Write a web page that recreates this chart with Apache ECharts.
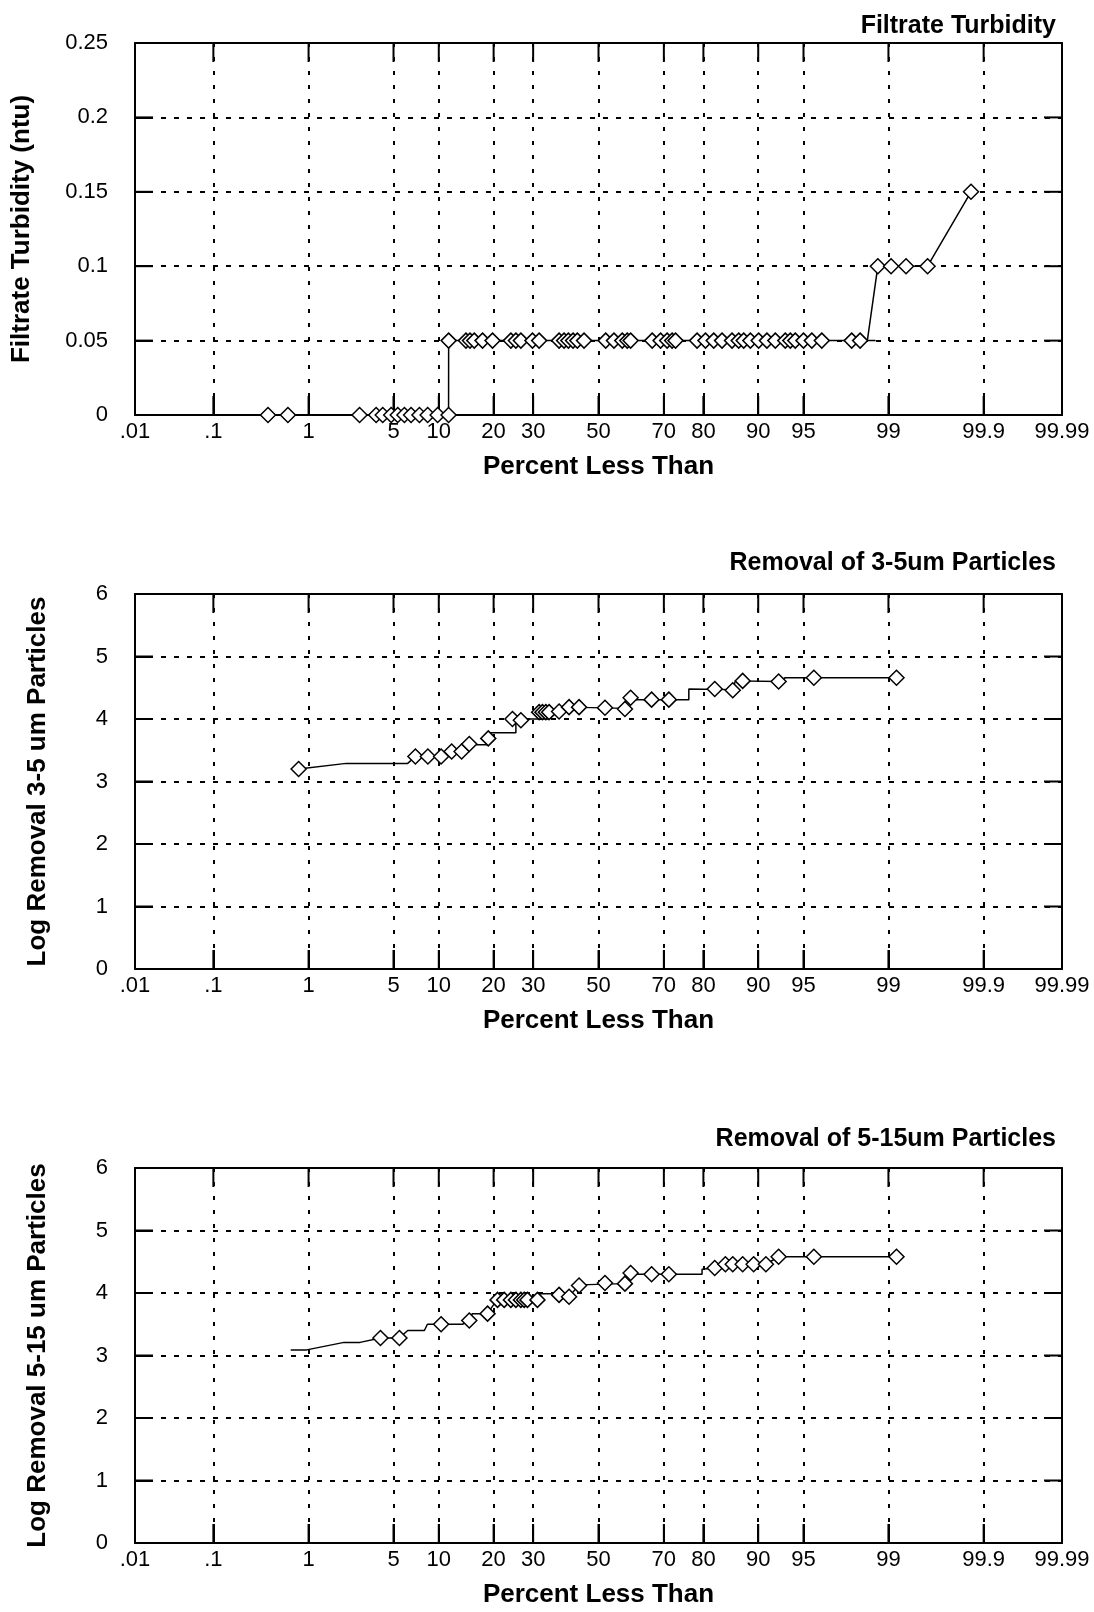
<!DOCTYPE html>
<html>
<head>
<meta charset="utf-8">
<title>Filtrate turbidity and particle removal - probability plots</title>
<script src="https://cdn.jsdelivr.net/npm/echarts@6.0.0/dist/echarts.min.js"></script>
<style>
  html, body { margin: 0; padding: 0; background: #fff; }
  #main { width: 1094px; height: 1612px; }
</style>
</head>
<body>
<div id="main"></div>
<script>
// x axis: normal probability scale, ticks in "percent less than"
var tickPct = [0.01, 0.1, 1, 5, 10, 20, 30, 50, 70, 80, 90, 95, 99, 99.9, 99.99];
var tickLabels = ['.01', '.1', '1', '5', '10', '20', '30', '50', '70', '80', '90', '95', '99', '99.9', '99.99'];
var turbTicks = [0, 0.05, 0.1, 0.15, 0.2, 0.25];
var removalTicks = [0, 1, 2, 3, 4, 5, 6];

// chart 1 - filtrate turbidity (ntu)
var turbMarkPct = [0.40, 0.635, 2.76, 3.72, 4.17, 4.81, 5.36, 5.97, 6.63, 7.54, 8.52, 9.84, 11.45,
  11.46, 14.38, 15.12, 15.94, 17.61, 19.76, 24.10, 25.37, 26.67, 29.81, 31.69, 37.59, 39.12, 40.45,
  41.91, 43.26, 45.38, 52.30, 54.94, 57.56, 59.12, 60.17, 66.67, 69.08, 70.91, 72.27, 73.17, 78.55,
  80.46, 82.24, 83.92, 85.80, 86.97, 87.80, 88.85, 90.06, 91.17, 92.20, 93.30, 93.81, 94.28, 95.00,
  95.65, 96.34, 97.89, 98.21,
  98.75, 99.055, 99.32, 99.586, 99.86];
var turbMarkVal = [0, 0, 0, 0, 0, 0, 0, 0, 0, 0, 0, 0, 0,
  0.05, 0.05, 0.05, 0.05, 0.05, 0.05, 0.05, 0.05, 0.05, 0.05, 0.05, 0.05, 0.05, 0.05,
  0.05, 0.05, 0.05, 0.05, 0.05, 0.05, 0.05, 0.05, 0.05, 0.05, 0.05, 0.05, 0.05, 0.05,
  0.05, 0.05, 0.05, 0.05, 0.05, 0.05, 0.05, 0.05, 0.05, 0.05, 0.05, 0.05, 0.05, 0.05,
  0.05, 0.05, 0.05, 0.05,
  0.1, 0.1, 0.1, 0.1, 0.15];
var turbLinePct = [0.104, 0.40, 11.45, 11.46, 98.21, 98.69, 98.45, 98.75, 99.586, 99.86];
var turbLineVal = [0, 0, 0, 0.05, 0.05, 0.05, 0.05, 0.1, 0.1, 0.15];

// chart 2 - log removal of 3-5 um particles
var p35MarkPct = [0.806, 7.09, 8.55, 10.33, 11.93, 13.60, 14.99, 18.82, 24.50, 26.67, 31.69, 32.64,
  33.63, 34.59, 37.59, 40.66, 43.80, 52.07, 58.40, 60.17, 66.49, 71.38, 82.45, 85.93, 87.63, 92.58,
  95.80, 99.16];
var p35MarkVal = [3.20, 3.40, 3.40, 3.40, 3.48, 3.48, 3.60, 3.69, 4.00, 3.98, 4.11, 4.11,
  4.11, 4.11, 4.12, 4.19, 4.19, 4.18, 4.16, 4.34, 4.31, 4.31, 4.48, 4.46, 4.61, 4.60,
  4.66, 4.66];
var p35LinePct = [0.806, 2.15, 6.29, 7.09, 10.33, 11.93, 13.60, 15.56, 18.82, 18.82, 25.37, 25.37,
  34.59, 34.59, 37.59, 40.66, 58.40, 58.62, 76.57, 76.57, 85.93, 86.40, 92.58, 93.30, 99.16];
var p35LineVal = [3.20, 3.29, 3.29, 3.40, 3.40, 3.48, 3.48, 3.59, 3.59, 3.78, 3.78, 4.00,
  4.00, 4.11, 4.12, 4.19, 4.17, 4.31, 4.31, 4.48, 4.47, 4.61, 4.60, 4.66, 4.66];

// chart 3 - log removal of 5-15 um particles
var p515MarkPct = [4.01, 5.51, 10.33, 14.99, 18.67, 20.89, 22.46, 24.10, 25.37, 26.67, 27.55, 28.43,
  31.21, 37.59, 40.66, 43.80, 52.07, 58.40, 60.17, 66.49, 71.38, 82.45, 84.57, 85.93, 87.63, 89.34,
  91.04, 92.58, 95.80, 99.16];
var p515MarkVal = [3.28, 3.28, 3.50, 3.56, 3.67, 3.89, 3.89, 3.89, 3.89, 3.89, 3.89, 3.89,
  3.89, 3.97, 3.94, 4.12, 4.16, 4.15, 4.32, 4.30, 4.30, 4.40, 4.46, 4.46, 4.46, 4.46,
  4.46, 4.58, 4.58, 4.58];
var p515LinePct = [0.676, 0.959, 2.06, 2.79, 4.01, 5.51, 6.29, 8.12, 8.49, 13.77, 14.99, 15.56, 18.67,
  19.76, 20.89, 31.21, 31.69, 37.29, 40.66, 43.80, 58.40, 58.62, 79.70, 79.70, 82.45, 84.57, 91.04,
  92.58, 99.16];
var p515LineVal = [3.09, 3.09, 3.21, 3.21, 3.28, 3.28, 3.40, 3.40, 3.50, 3.50, 3.56, 3.67, 3.67,
  3.79, 3.89, 3.89, 3.99, 3.99, 3.94, 4.13, 4.15, 4.30, 4.30, 4.38, 4.40, 4.46, 4.46,
  4.58, 4.58];

var chartTitles = ['Filtrate Turbidity', 'Removal of 3-5um Particles', 'Removal of 5-15um Particles'];
var yNames = ['Filtrate Turbidity (ntu)', 'Log Removal 3-5 um Particles', 'Log Removal 5-15 um Particles'];
var yTickSets = [turbTicks, removalTicks, removalTicks];

// inverse normal cdf (Acklam) - turns a percentage into a probability-paper position
function probit(p) {
  var a = [-3.969683028665376e+01, 2.209460984245205e+02, -2.759285104469687e+02, 1.383577518672690e+02, -3.066479806614716e+01, 2.506628277459239e+00];
  var b = [-5.447609879822406e+01, 1.615858368580409e+02, -1.556989798598866e+02, 6.680131188771972e+01, -1.328068155288572e+01];
  var c = [-7.784894002430293e-03, -3.223964580411365e-01, -2.400758277161838e+00, -2.549732539343734e+00, 4.374664141464968e+00, 2.938163982698783e+00];
  var d = [7.784695709041462e-03, 3.224671290700398e-01, 2.445134137142996e+00, 3.754408661907416e+00];
  var pl = 0.02425, q, r;
  if (p < pl) {
    q = Math.sqrt(-2 * Math.log(p));
    return (((((c[0] * q + c[1]) * q + c[2]) * q + c[3]) * q + c[4]) * q + c[5]) / ((((d[0] * q + d[1]) * q + d[2]) * q + d[3]) * q + 1);
  }
  if (p > 1 - pl) {
    q = Math.sqrt(-2 * Math.log(1 - p));
    return -(((((c[0] * q + c[1]) * q + c[2]) * q + c[3]) * q + c[4]) * q + c[5]) / ((((d[0] * q + d[1]) * q + d[2]) * q + d[3]) * q + 1);
  }
  q = p - 0.5;
  r = q * q;
  return (((((a[0] * r + a[1]) * r + a[2]) * r + a[3]) * r + a[4]) * r + a[5]) * q / (((((b[0] * r + b[1]) * r + b[2]) * r + b[3]) * r + b[4]) * r + 1);
}

function toPoints(pct, val) {
  return pct.map(function (p, i) { return [probit(p / 100), val[i]]; });
}

var FONT = '"Liberation Sans", Arial, Helvetica, sans-serif';
var tickZ = tickPct.map(function (p) { return probit(p / 100); });
var zMin = tickZ[0];
var zMax = tickZ[tickZ.length - 1];
var TICK_LEN = 19;

var gridBoxes = [
  { top: 43, height: 372 },
  { top: 594, height: 375 },
  { top: 1168, height: 375 }
];
var titleTops = [14, 551, 1127];
var yNameGaps = [100, 84, 84];

var marks = [toPoints(turbMarkPct, turbMarkVal), toPoints(p35MarkPct, p35MarkVal), toPoints(p515MarkPct, p515MarkVal)];
var lines = [toPoints(turbLinePct, turbLineVal), toPoints(p35LinePct, p35LineVal), toPoints(p515LinePct, p515LineVal)];

var tickStyle = { stroke: '#000', lineWidth: 2 };

// inside major ticks on the bottom and top frame edges
function xTickRenderer(yTop) {
  return function (params, api) {
    var b = api.coord([api.value(0), 0]);
    var t = api.coord([api.value(0), yTop]);
    return {
      type: 'group',
      children: [
        { type: 'line', shape: { x1: b[0], y1: b[1], x2: b[0], y2: b[1] - TICK_LEN }, style: tickStyle },
        { type: 'line', shape: { x1: t[0], y1: t[1], x2: t[0], y2: t[1] + TICK_LEN }, style: tickStyle }
      ]
    };
  };
}
// inside major ticks on the left and right frame edges
function yTickRenderer(params, api) {
  var l = api.coord([zMin, api.value(1)]);
  var r = api.coord([zMax, api.value(1)]);
  return {
    type: 'group',
    children: [
      { type: 'line', shape: { x1: l[0], y1: l[1], x2: l[0] + TICK_LEN - 1, y2: l[1] }, style: tickStyle },
      { type: 'line', shape: { x1: r[0], y1: r[1], x2: r[0] - TICK_LEN + 1, y2: r[1] }, style: tickStyle }
    ]
  };
}

var frameLine = { show: true, onZero: false, lineStyle: { color: '#000', width: 2 } };
var grid = [], xAxis = [], yAxis = [], title = [], series = [];

for (var g = 0; g < 3; g++) {
  var yTicks = yTickSets[g];
  var yTop = yTicks[yTicks.length - 1];
  grid.push({ left: 135, width: 927, top: gridBoxes[g].top, height: gridBoxes[g].height, outerBoundsMode: 'none' });
  title.push({
    text: chartTitles[g], right: 38, top: titleTops[g], padding: 0,
    textStyle: { fontFamily: FONT, fontSize: 25, fontWeight: 'bold', color: '#000' }
  });
  // bottom x axis with labels, top x axis only for the frame
  xAxis.push({
    type: 'value', gridIndex: g, position: 'bottom', min: zMin, max: zMax,
    name: 'Percent Less Than', nameLocation: 'middle', nameGap: 39,
    nameTextStyle: { fontFamily: FONT, fontSize: 26, fontWeight: 'bold', color: '#000' },
    axisLine: frameLine,
    axisTick: { show: true, inside: true, length: TICK_LEN, customValues: tickZ, lineStyle: { color: '#000', width: 2 } },
    axisLabel: {
      customValues: tickZ, margin: 6, color: '#000', fontFamily: FONT, fontSize: 22,
      formatter: function (v) {
        for (var i = 0; i < tickZ.length; i++) {
          if (Math.abs(tickZ[i] - v) < 1e-6) return tickLabels[i];
        }
        return '';
      }
    },
    splitLine: { show: true, lineStyle: { color: '#000', width: 2, type: [4, 10] } }
  });
  xAxis.push({
    type: 'value', gridIndex: g, position: 'top', min: zMin, max: zMax,
    axisLine: frameLine,
    axisTick: { show: false },
    axisLabel: { show: false },
    splitLine: { show: false }
  });
  yAxis.push({
    type: 'value', gridIndex: g, position: 'left', min: 0, max: yTop, interval: yTicks[1] - yTicks[0],
    name: yNames[g], nameLocation: 'middle', nameGap: yNameGaps[g],
    nameTextStyle: { fontFamily: FONT, fontSize: 26, fontWeight: 'bold', color: '#000' },
    axisLine: frameLine,
    axisTick: { show: true, inside: true, length: TICK_LEN - 1, lineStyle: { color: '#000', width: 2 } },
    axisLabel: { margin: 27, color: '#000', fontFamily: FONT, fontSize: 22 },
    splitLine: { show: true, lineStyle: { color: '#000', width: 2, type: [5, 8] } }
  });
  yAxis.push({
    type: 'value', gridIndex: g, position: 'right', min: 0, max: yTop, interval: yTicks[1] - yTicks[0],
    axisLine: frameLine,
    axisTick: { show: false },
    axisLabel: { show: false },
    splitLine: { show: false }
  });
  series.push({
    type: 'custom', xAxisIndex: 2 * g, yAxisIndex: 2 * g, silent: true, clip: false, z: 1,
    data: tickZ.map(function (z) { return [z, 0]; }),
    renderItem: xTickRenderer(yTop)
  });
  series.push({
    type: 'custom', xAxisIndex: 2 * g, yAxisIndex: 2 * g, silent: true, clip: false, z: 1,
    data: yTicks.map(function (v) { return [zMin, v]; }),
    renderItem: yTickRenderer
  });
  series.push({
    type: 'line', xAxisIndex: 2 * g, yAxisIndex: 2 * g, data: lines[g],
    symbol: 'none', showSymbol: false, clip: false, silent: true, z: 3,
    lineStyle: { color: '#000', width: 1.5 }
  });
  series.push({
    type: 'scatter', xAxisIndex: 2 * g, yAxisIndex: 2 * g, data: marks[g],
    symbol: 'diamond', symbolSize: 15, clip: false, silent: true, z: 4,
    itemStyle: { color: '#fff', borderColor: '#000', borderWidth: 1.5, opacity: 1 }
  });
}

var myChart = echarts.init(document.getElementById('main'), null, { renderer: 'canvas' });
myChart.setOption({
  animation: false,
  backgroundColor: '#fff',
  title: title,
  grid: grid,
  xAxis: xAxis,
  yAxis: yAxis,
  series: series
});
</script>
</body>
</html>
